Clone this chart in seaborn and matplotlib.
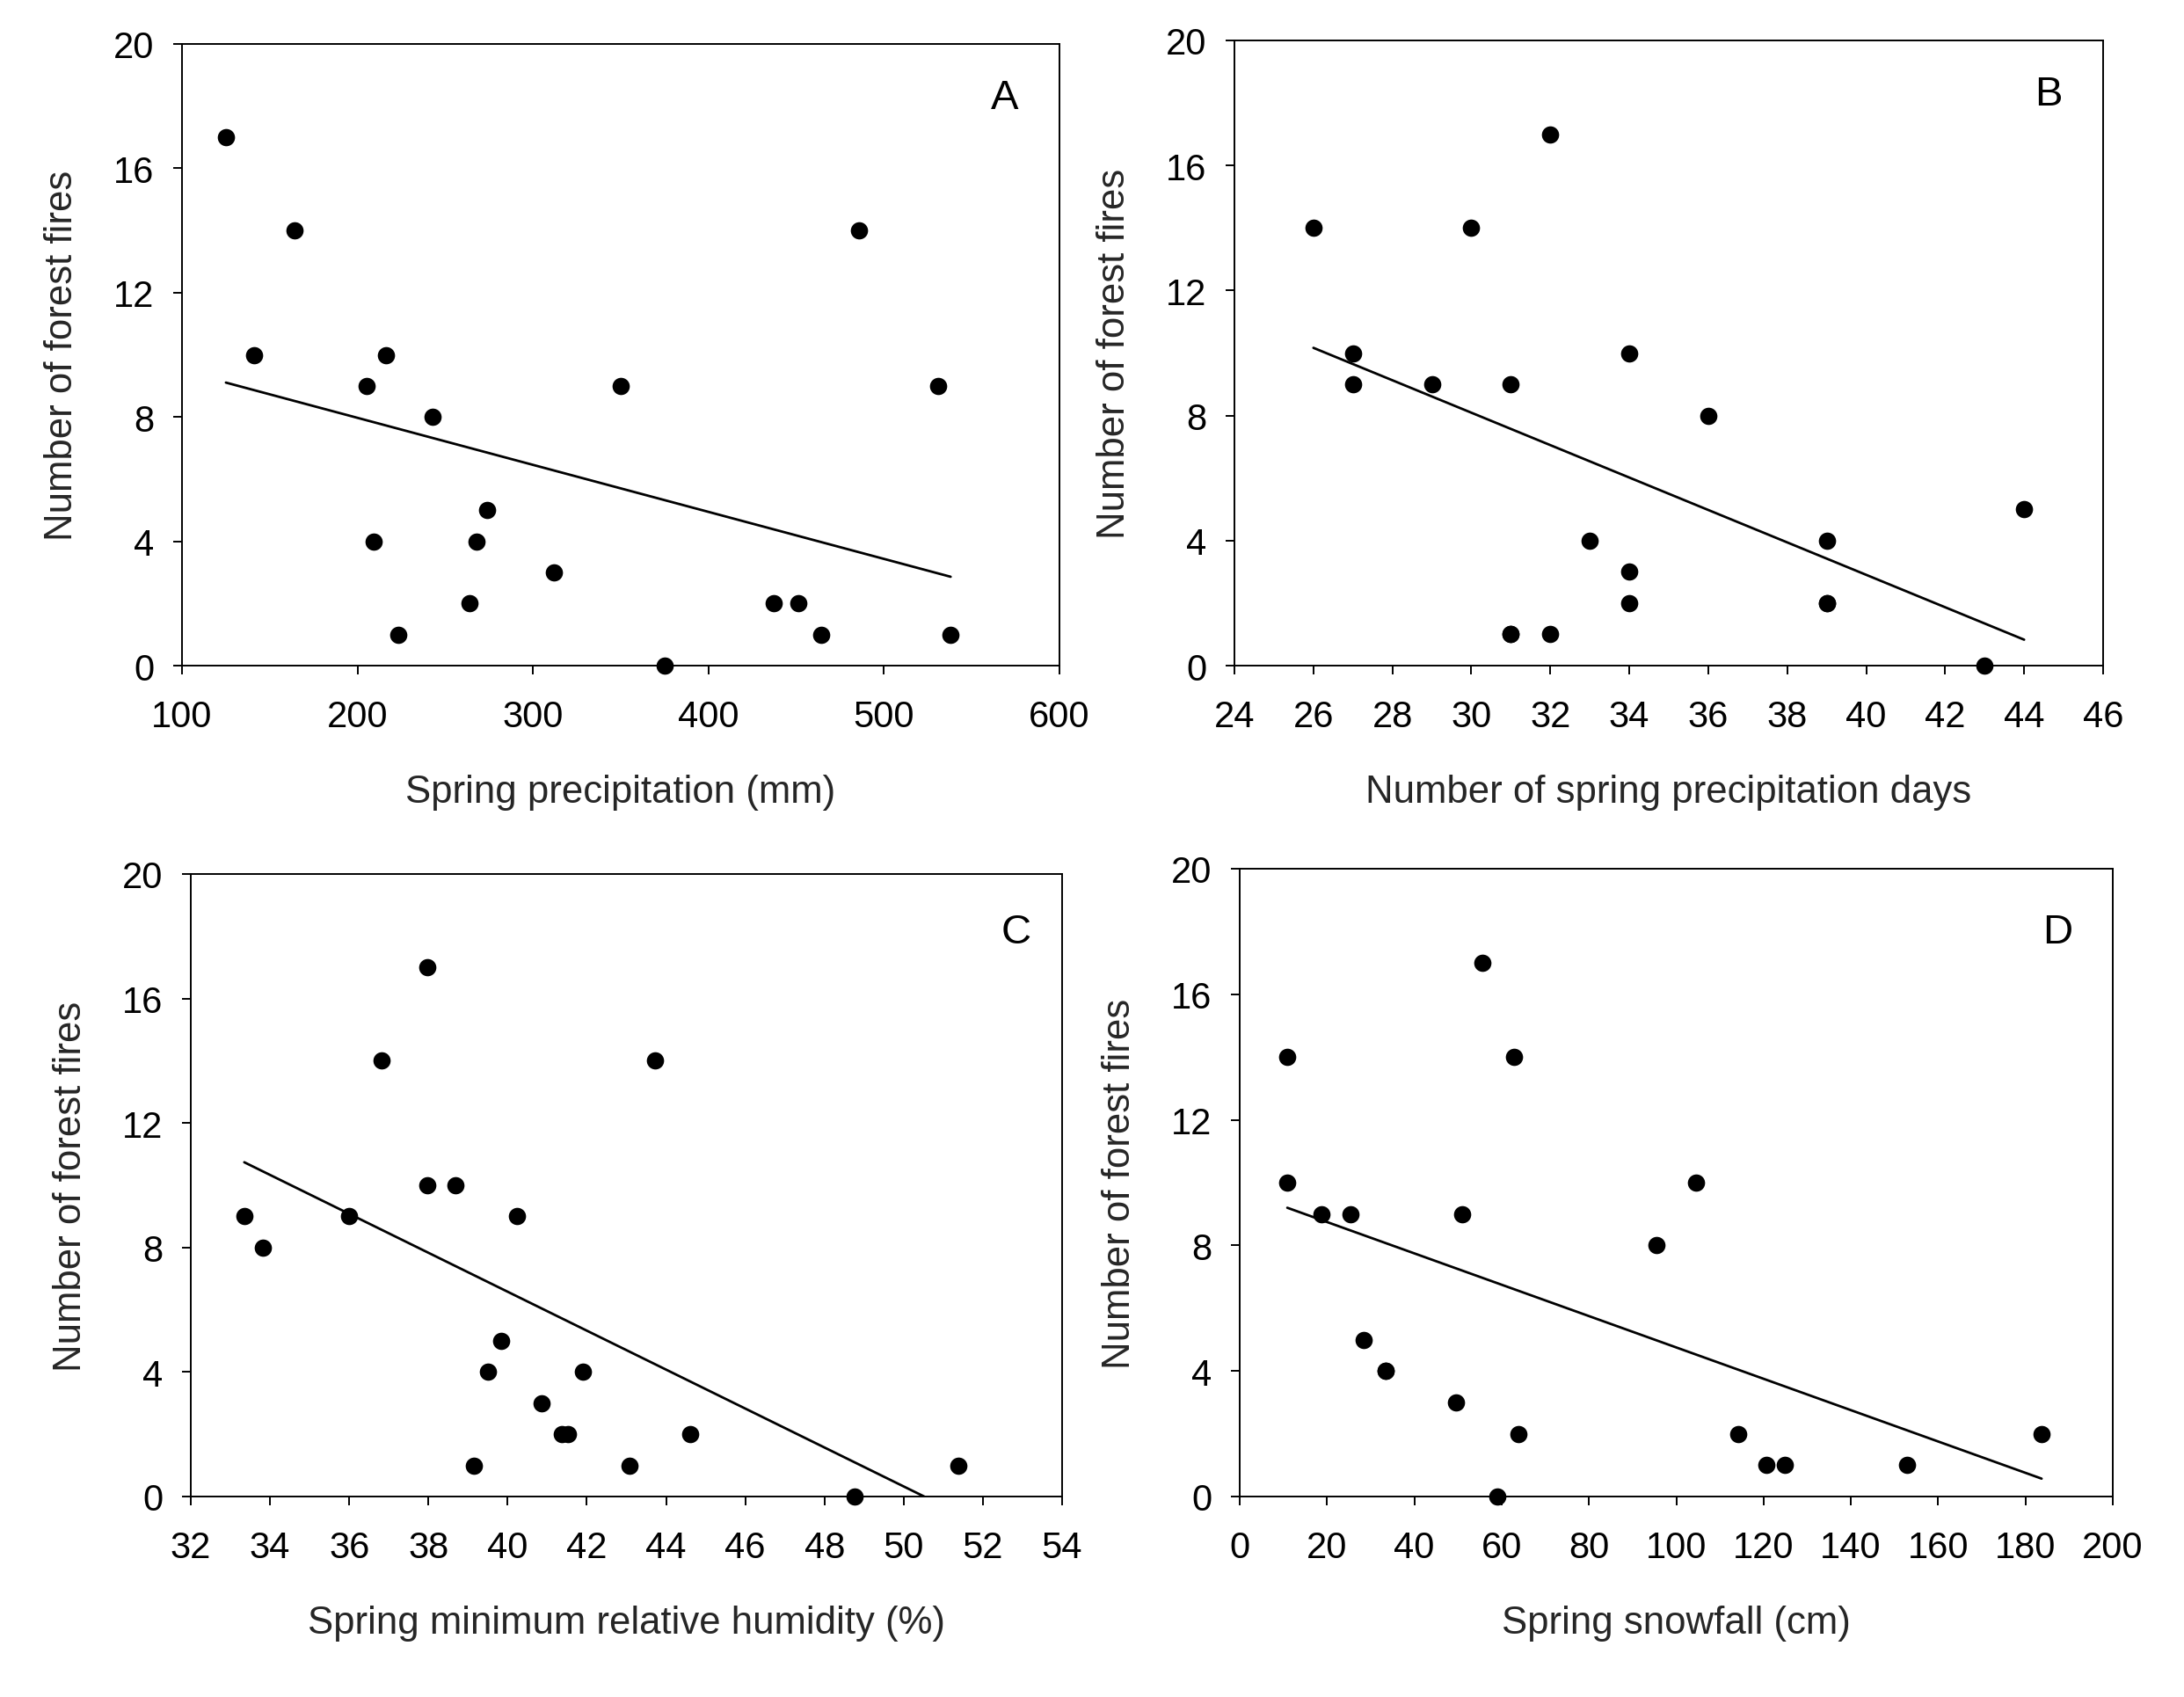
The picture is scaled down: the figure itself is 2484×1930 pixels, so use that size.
import matplotlib
matplotlib.use("Agg")
import matplotlib.pyplot as plt
import numpy as np
import pandas as pd
import seaborn as sns

# ---------------- data ----------------
fires_label = "Number of forest fires"

precip_mm = [125, 141, 164, 205, 209, 216, 223, 243, 264, 268,
             274, 312, 350, 375, 437, 451, 464, 486, 531, 538]
fires_a = [17, 10, 14, 9, 4, 10, 1, 8, 2, 4,
           5, 3, 9, 0, 2, 2, 1, 14, 9, 1]

precip_days = [26, 27, 27, 29, 30, 31, 31, 31, 32, 32,
               33, 34, 34, 34, 36, 39, 39, 39, 43, 44]
fires_b = [14, 10, 9, 9, 14, 9, 1, 1, 17, 1,
           4, 10, 3, 2, 8, 4, 2, 2, 0, 5]

min_rh = [33.35, 33.83, 35.99, 36.82, 37.98, 37.98, 38.68, 39.15, 39.50, 39.84,
          40.24, 40.86, 41.37, 41.53, 41.91, 43.07, 43.72, 44.60, 48.75, 51.37]
fires_c = [9, 8, 9, 14, 17, 10, 10, 1, 4, 5,
           9, 3, 2, 2, 4, 1, 14, 2, 0, 1]

snowfall_cm = [10.9, 10.9, 18.8, 25.4, 28.4, 33.4, 33.4, 49.6, 50.9, 55.5,
               59.1, 62.9, 63.8, 95.4, 104.5, 114.3, 120.7, 124.8, 152.8, 183.7]
fires_d = [14, 10, 9, 9, 5, 4, 4, 3, 9, 17,
           0, 14, 2, 8, 10, 2, 1, 1, 1, 2]

panel_letters = ["A", "B", "C", "D"]
x_labels = ["Spring precipitation (mm)",
            "Number of spring precipitation days",
            "Spring minimum relative humidity (%)",
            "Spring snowfall (cm)"]
x_limits = [(100, 600), (24, 46), (32, 54), (0, 200)]
x_steps = [100, 2, 2, 20]
y_ticks = [0, 4, 8, 12, 16, 20]

panels = [(precip_mm, fires_a), (precip_days, fires_b),
          (min_rh, fires_c), (snowfall_cm, fires_d)]

# ---------------- style ----------------
sns.set_style("ticks")
plt.rcParams["font.family"] = ["Liberation Sans", "DejaVu Sans"]

W, H = 2484, 1931
fig = plt.figure(figsize=(W / 100, H / 100), dpi=100)
fig.patch.set_facecolor("white")

# axes boxes in pixels: (left, top, right, bottom)
boxes = [(207, 51, 1205, 758), (1404, 47, 2392, 758),
         (217, 995, 1208, 1703), (1410, 989, 2403, 1703)]
letter_pos = [(0.938, 0.914), (0.937, 0.914), (0.9475, 0.907), (0.937, 0.899)]

for i, ((xv, yv), box) in enumerate(zip(panels, boxes)):
    x0, y0, x1, y1 = box
    ax = fig.add_axes([x0 / W, 1 - y1 / H, (x1 - x0) / W, (y1 - y0) / H])
    df = pd.DataFrame({"x": xv, "y": yv})
    sns.regplot(data=df, x="x", y="y", ax=ax, ci=None, truncate=True,
                color="black",
                scatter_kws={"s": 200, "linewidths": 0, "clip_on": False,
                             "zorder": 3, "alpha": 1},
                line_kws={"linewidth": 2.0, "color": "black"})
    lo, hi = x_limits[i]
    ax.set_xlim(lo, hi)
    ax.set_ylim(0, 20)
    ax.set_xticks(np.arange(lo, hi + x_steps[i] / 2, x_steps[i]))
    ax.set_yticks(y_ticks)
    for s in ax.spines.values():
        s.set_linewidth(1.4)
        s.set_color("black")
    ax.tick_params(axis="both", direction="out", length=7.2, width=1.4,
                   labelsize=30, colors="black")
    ax.tick_params(axis="x", pad=20)
    ax.tick_params(axis="y", pad=15.5)
    ax.set_xlabel(x_labels[i], fontsize=31.5)
    ax.set_ylabel(fires_label, fontsize=31.5)
    w_px = x1 - x0
    h_px = y1 - y0
    ax.xaxis.set_label_coords(0.5, -144 / h_px)
    ax.xaxis.label.set_va("center")
    ax.yaxis.set_label_coords(-116 / w_px, 0.5)
    lx, ly = letter_pos[i]
    ax.text(lx, ly, panel_letters[i], transform=ax.transAxes,
            fontsize=34, ha="center", va="center", color="black")

fig.savefig("out.png", dpi=100, facecolor="white")
